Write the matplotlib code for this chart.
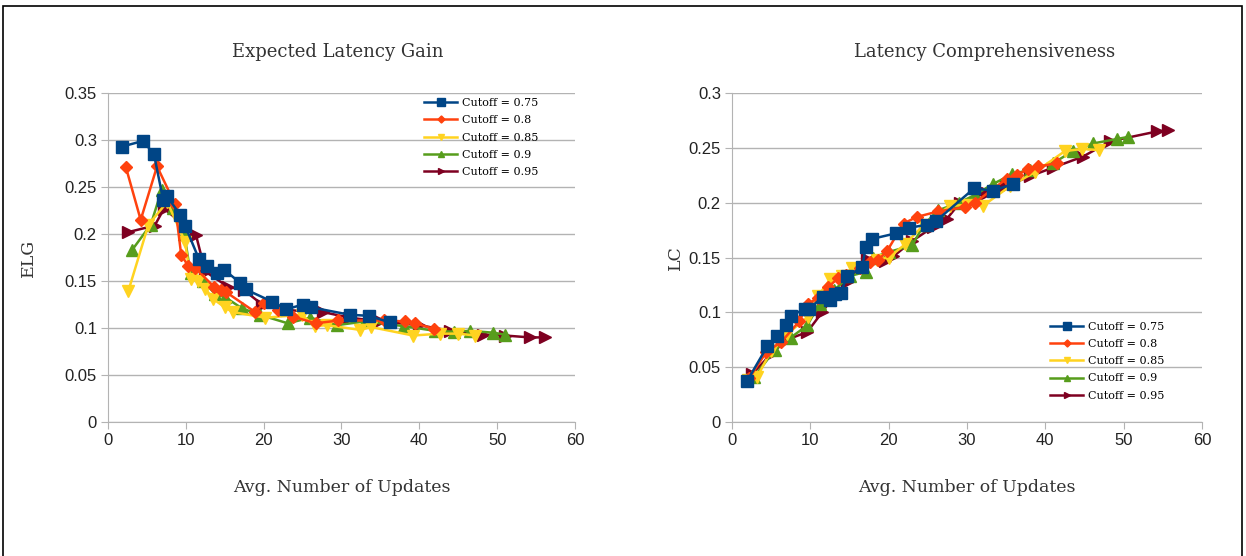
import matplotlib.pyplot as plt
from matplotlib.ticker import FuncFormatter, MultipleLocator
from matplotlib.patches import Rectangle

# Expected Latency Gain (left)
elg_x_075 = [1.8, 4.5, 5.9, 7.1, 7.6, 9.3, 9.9, 11.7, 12.7, 14.0, 14.9, 17.0, 17.7, 21.1, 22.9, 25.1, 26.1, 31.1, 33.5, 36.2]
elg_y_075 = [0.293, 0.299, 0.285, 0.236, 0.240, 0.220, 0.209, 0.173, 0.166, 0.158, 0.162, 0.148, 0.141, 0.128, 0.120, 0.125, 0.122, 0.114, 0.113, 0.106]
elg_x_080 = [2.3, 4.2, 6.3, 8.6, 9.4, 10.3, 11.2, 13.6, 14.5, 15.2, 18.9, 20.1, 21.9, 23.8, 26.7, 29.6, 35.4, 38.2, 39.5, 41.9]
elg_y_080 = [0.271, 0.215, 0.272, 0.232, 0.178, 0.166, 0.164, 0.144, 0.140, 0.138, 0.117, 0.127, 0.119, 0.112, 0.105, 0.108, 0.108, 0.107, 0.105, 0.099]
elg_x_085 = [2.6, 5.2, 7.6, 9.9, 10.6, 11.6, 12.5, 13.5, 15.0, 16.0, 20.2, 24.9, 26.6, 28.1, 32.4, 33.8, 39.2, 42.7, 45.0, 47.2]
elg_y_085 = [0.139, 0.210, 0.234, 0.192, 0.152, 0.150, 0.142, 0.131, 0.122, 0.117, 0.111, 0.114, 0.102, 0.103, 0.098, 0.101, 0.092, 0.094, 0.094, 0.092]
elg_x_090 = [3.1, 5.5, 6.9, 8.4, 9.8, 10.6, 12.2, 13.8, 15.0, 17.2, 19.5, 23.1, 26.0, 29.4, 33.0, 38.0, 42.0, 44.5, 46.5, 49.5, 51.0]
elg_y_090 = [0.183, 0.210, 0.247, 0.228, 0.200, 0.158, 0.150, 0.136, 0.133, 0.121, 0.114, 0.105, 0.111, 0.103, 0.107, 0.102, 0.097, 0.096, 0.097, 0.095, 0.093]
elg_x_095 = [2.6, 6.0, 7.2, 11.3, 12.5, 15.4, 17.5, 19.8, 23.0, 27.6, 31.0, 35.0, 40.0, 44.0, 48.2, 51.0, 54.2, 56.2]
elg_y_095 = [0.202, 0.209, 0.227, 0.199, 0.160, 0.144, 0.140, 0.125, 0.119, 0.117, 0.111, 0.107, 0.103, 0.097, 0.093, 0.092, 0.090, 0.090]

# Latency Comprehensiveness (right)
lc_x_075 = [1.9, 4.5, 5.7, 6.9, 7.5, 9.3, 9.8, 11.6, 12.5, 13.2, 13.9, 14.7, 16.6, 17.1, 17.9, 20.9, 22.6, 24.9, 26.0, 30.9, 33.3, 35.9]
lc_y_075 = [0.037, 0.069, 0.078, 0.088, 0.097, 0.103, 0.103, 0.114, 0.111, 0.117, 0.118, 0.133, 0.141, 0.160, 0.167, 0.172, 0.177, 0.180, 0.183, 0.213, 0.211, 0.217]
lc_x_080 = [2.2, 4.4, 6.3, 8.6, 9.7, 11.0, 12.3, 13.5, 14.6, 16.3, 17.6, 18.7, 19.8, 21.9, 23.6, 26.3, 29.8, 31.0, 35.1, 36.4, 37.8, 39.1, 41.5]
lc_y_080 = [0.040, 0.064, 0.073, 0.092, 0.108, 0.113, 0.123, 0.131, 0.134, 0.140, 0.146, 0.148, 0.156, 0.181, 0.187, 0.192, 0.196, 0.200, 0.222, 0.225, 0.231, 0.233, 0.236]
lc_x_085 = [2.0, 3.2, 5.0, 7.0, 9.7, 11.0, 12.5, 14.0, 15.3, 18.5, 20.0, 22.1, 24.5, 27.8, 30.0, 32.0, 35.5, 38.7, 42.5, 44.7, 46.8]
lc_y_085 = [0.038, 0.041, 0.065, 0.080, 0.096, 0.115, 0.130, 0.133, 0.140, 0.148, 0.150, 0.162, 0.180, 0.197, 0.198, 0.197, 0.215, 0.228, 0.247, 0.249, 0.248]
lc_x_090 = [2.8, 5.5, 7.5, 9.6, 11.2, 13.0, 15.0, 17.1, 18.0, 20.0, 23.0, 24.5, 26.3, 29.0, 31.0, 33.3, 35.8, 38.0, 41.0, 43.5, 46.1, 49.1, 50.6]
lc_y_090 = [0.041, 0.066, 0.077, 0.088, 0.108, 0.120, 0.133, 0.137, 0.150, 0.155, 0.161, 0.180, 0.193, 0.200, 0.207, 0.217, 0.226, 0.230, 0.236, 0.247, 0.254, 0.258, 0.260]
lc_x_095 = [2.6, 5.0, 7.0, 9.6, 11.5, 13.0, 14.7, 17.2, 19.5, 20.6, 23.0, 25.7, 27.4, 29.1, 32.5, 35.0, 38.0, 41.0, 44.8, 48.3, 54.3, 55.7]
lc_y_095 = [0.044, 0.062, 0.075, 0.082, 0.100, 0.115, 0.128, 0.149, 0.147, 0.151, 0.165, 0.178, 0.185, 0.200, 0.209, 0.215, 0.224, 0.232, 0.242, 0.256, 0.265, 0.266]

labels = ["Cutoff = 0.75", "Cutoff = 0.8", "Cutoff = 0.85", "Cutoff = 0.9", "Cutoff = 0.95"]
colors = ["#004586", "#ff420e", "#ffd320", "#579d1c", "#7e0021"]
markers = ["s", "D", "v", "^", ">"]
msizes = [9, 6, 8, 8, 8]

elg = [(elg_x_075, elg_y_075), (elg_x_080, elg_y_080), (elg_x_085, elg_y_085),
       (elg_x_090, elg_y_090), (elg_x_095, elg_y_095)]
lc = [(lc_x_075, lc_y_075), (lc_x_080, lc_y_080), (lc_x_085, lc_y_085),
      (lc_x_090, lc_y_090), (lc_x_095, lc_y_095)]

W, H = 1246, 556
fig = plt.figure(figsize=(W / 100, H / 100), dpi=100)
fig.patches.append(Rectangle((3 / W, -0.01), 1239 / W, 1 - 6 / H + 0.01, transform=fig.transFigure,
                             fill=False, edgecolor="black", linewidth=1.2))

serif = "DejaVu Serif"
sans = "Liberation Sans"


def setup(ax, ymax, ylabel, ylabelpad):
    ax.set_xlim(0, 60)
    ax.set_ylim(0, ymax)
    ax.xaxis.set_major_locator(MultipleLocator(10))
    ax.yaxis.set_major_locator(MultipleLocator(0.05))
    ax.yaxis.set_major_formatter(FuncFormatter(lambda v, p: "%g" % round(v, 2)))
    ax.grid(axis="y", color="#b3b3b3", linewidth=1)
    ax.set_axisbelow(True)
    for s in ["top", "right"]:
        ax.spines[s].set_visible(False)
    for s in ["left", "bottom"]:
        ax.spines[s].set_color("#b3b3b3")
    ax.tick_params(length=5, color="#b3b3b3", labelsize=12, labelcolor="#222222", pad=3)
    for t in ax.get_xticklabels() + ax.get_yticklabels():
        t.set_fontfamily(sans)
    ax.set_xlabel("Avg. Number of Updates", fontfamily=serif, fontsize=12.5, color="#333333", labelpad=22)
    ax.set_ylabel(ylabel, fontfamily=serif, fontsize=12.5, color="#333333", labelpad=ylabelpad)


ax1 = fig.add_axes([108 / W, 1 - 422 / H, 467 / W, 329 / H])
ax2 = fig.add_axes([732 / W, 1 - 422 / H, 470 / W, 329 / H])

for ax, series in [(ax1, elg), (ax2, lc)]:
    for i, (xs, ys) in enumerate(series):
        ax.plot(xs, ys, color=colors[i], marker=markers[i], markersize=msizes[i],
                linewidth=1.8, label=labels[i], zorder=10 - i)

setup(ax1, 0.35, "ELG", 20)
setup(ax2, 0.3, "LC", 3)

fig.text(338 / W, 1 - 52 / H, "Expected Latency Gain", fontfamily=serif, fontsize=13,
         color="#333333", ha="center", va="center")
fig.text(985 / W, 1 - 52 / H, "Latency Comprehensiveness", fontfamily=serif, fontsize=13,
         color="#333333", ha="center", va="center")

ax1.legend(loc="upper left", bbox_to_anchor=(0.655, 1.015), frameon=False,
           prop={"family": serif, "size": 8}, handlelength=3, labelspacing=0.65,
           handletextpad=0.4, markerscale=0.6)
ax2.legend(loc="upper left", bbox_to_anchor=(0.655, 0.335), frameon=False,
           prop={"family": serif, "size": 8}, handlelength=3, labelspacing=0.65,
           handletextpad=0.4, markerscale=0.6)

plt.savefig("out.png", dpi=100)
